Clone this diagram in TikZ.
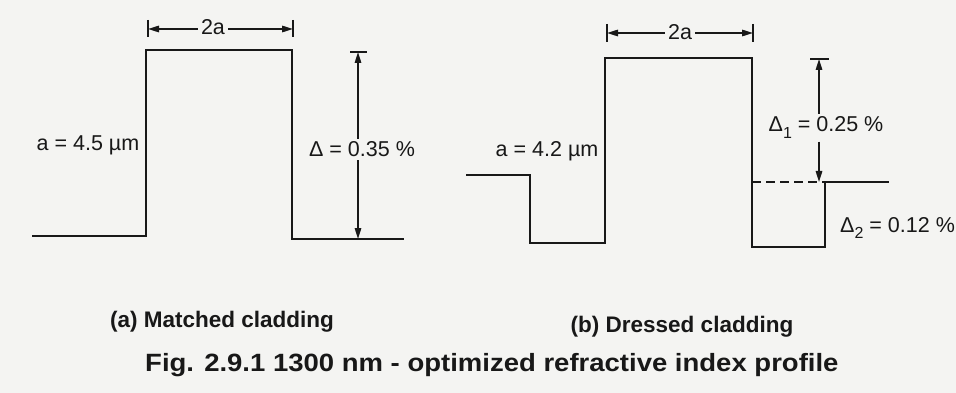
\documentclass[tikz,border=0pt]{standalone}
\usepackage{fontspec}
\setmainfont{Liberation Sans}
\usetikzlibrary{arrows.meta}
\definecolor{bgc}{RGB}{244,244,242}
\definecolor{ink}{RGB}{24,24,24}
\begin{document}
\begin{tikzpicture}[x=1pt,y=-1pt,
  profile/.style={line width=2.9pt, draw=ink, line join=miter, line cap=rect},
  dimline/.style={line width=1.5pt, draw=ink},
  dimtick/.style={line width=1.9pt, draw=ink},
  tipped/.style={dimline, -{Triangle[length=11pt,width=6.5pt]}},
  lbl/.style={font=\fontsize{21.5}{24}\selectfont, text=ink, inner xsep=3pt, inner ysep=3pt},
  capt/.style={font=\bfseries\fontsize{22.5}{26}\selectfont, text=ink, inner sep=0pt},
  figcapt/.style={font=\bfseries\fontsize{25}{28}\selectfont, text=ink, inner sep=0pt}]
\fill[bgc] (0,0) rectangle (956,393);
\useasboundingbox (0,0) rectangle (956,393);

% ---------- (a) matched cladding ----------
\coordinate (a1) at (33,236);
\coordinate (a2) at (146,236);
\coordinate (a3) at (146,50);
\coordinate (a4) at (292,50);
\coordinate (a5) at (292,239);
\coordinate (a6) at (403,239);
\draw[profile] (a1) -- (a2) -- (a3) -- (a4) -- (a5) -- (a6);

% 2a dimension
\coordinate (aL) at (148,29);
\coordinate (aR) at (293,29);
\draw[dimtick] (148,20) -- (148,37);
\draw[dimtick] (293,20) -- (293,37);
\node[lbl, anchor=base] (a2a) at (213,35) {2a};
\draw[tipped] (aL -| a2a.west) -- (aL);
\draw[tipped] (aR -| a2a.east) -- (aR);

% Delta
\coordinate (aDt) at (358,52);
\coordinate (aDb) at (358,239);
\draw[dimtick] (350,52) -- (367,52);
\node[lbl, anchor=base] (aD) at (362,157) {Δ = 0.35 \%};
\draw[tipped] (aDt |- aD.north) -- (aDt);
\draw[tipped] (aDb |- aD.south) -- (aDb);

\node[lbl, anchor=base] (aR1) at (88,150) {a = 4.5 µm};
\node[capt, anchor=base] (acap) at (222,327) {(a) Matched cladding};

% ---------- (b) dressed cladding ----------
\coordinate (b1) at (467,175);
\coordinate (b2) at (530,175);
\coordinate (b3) at (530,243);
\coordinate (b4) at (605,243);
\coordinate (b5) at (605,58);
\coordinate (b6) at (752,58);
\coordinate (b7) at (752,247);
\coordinate (b8) at (825,247);
\coordinate (b9) at (825,182);
\coordinate (b10) at (888,182);
\draw[profile] (b1) -- (b2) -- (b3) -- (b4) -- (b5) -- (b6) -- (b7) -- (b8) -- (b9) -- (b10);
\draw[dimline, line width=1.9pt, dash pattern=on 9pt off 5pt] (752,182) -- (b9);

% 2a dimension
\coordinate (bL) at (607,33);
\coordinate (bR) at (753,33);
\draw[dimtick] (607,24) -- (607,42);
\draw[dimtick] (753,24) -- (753,42);
\node[lbl, anchor=base] (b2a) at (680,40) {2a};
\draw[tipped] (bL -| b2a.west) -- (bL);
\draw[tipped] (bR -| b2a.east) -- (bR);

% Delta 1
\coordinate (bDt) at (819,59);
\coordinate (bDb) at (819,182);
\draw[dimtick] (810,59) -- (829,59);
\node[lbl, anchor=base] (bD1) at (826,132) {Δ\raisebox{-0.3em}{\fontsize{16}{16}\selectfont 1} = 0.25 \%};
\draw[tipped] (bDt |- bD1.north) -- (bDt);
\draw[tipped] (bDb |- bD1.south) -- (bDb);

% Delta 2
\node[lbl, anchor=base west, inner xsep=0pt] (bD2) at (840,232) {Δ\raisebox{-0.3em}{\fontsize{16}{16}\selectfont 2} = 0.12 \%};

\node[lbl, anchor=base] (bR1) at (547,157) {a = 4.2 µm};
\node[capt, anchor=base] (bcap) at (682,332) {(b) Dressed cladding};

% ---------- figure caption ----------
\node[figcapt, anchor=base west] (fig) at (145,371) {\scalebox{1.1}[1]{Fig. 2.9.1 1300 nm - optimized refractive index profile}};
\end{tikzpicture}
\end{document}
